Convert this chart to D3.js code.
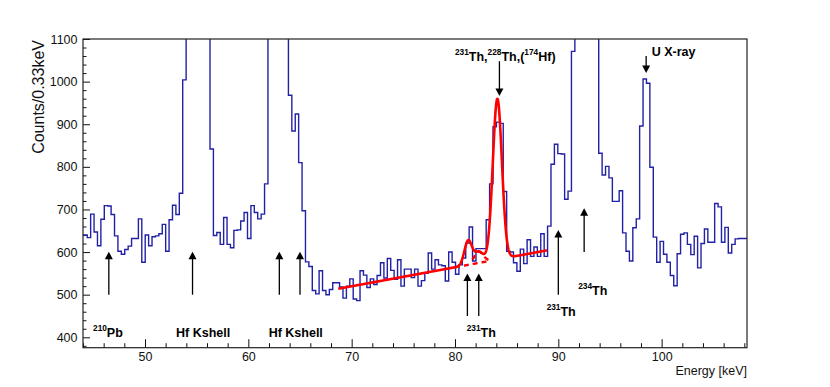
<!DOCTYPE html>
<html>
<head>
<meta charset="utf-8">
<script src="https://cdn.jsdelivr.net/npm/d3@7"></script>
<style>
body { margin: 0; background: #fff; }
text { font-family: "Liberation Sans", Arial, Helvetica, sans-serif; }
</style>
</head>
<body>
<svg id="chart" width="830" height="387"></svg>
<script>
// histogram: 0.33 keV bins starting at 43.75 keV
var binStart = 43.75;
var binWidth = 0.33;
var counts = [
  640,
  640, 634, 689, 647, 615, 677, 709, 708, 688, 638, 602, 595, 606, 614, 632, 632, 678, 576, 640, 615, 636, 638, 643, 665, 602, 676, 710, 688, 738,
  1004,
  1400, 2000, 2600, 2400, 1900, 1500, 1200,
  842,
  639, 646, 618, 681, 618, 610, 651, 652, 673, 693, 632, 709, 693, 678, 689,
  760,
  1300, 1900, 2300, 2100, 1600, 1200,
  968, 884, 924, 810,
  697, 577, 566, 510, 502, 556, 510, 500, 512, 528, 528, 518, 492,
  520, 537, 490, 486, 556, 546, 517, 537, 524, 545, 575, 539, 585, 557, 536, 582, 520, 560,
  560, 540, 560, 520, 533, 550, 598, 560, 582, 570, 568, 532, 600, 576, 548, 570, 586, 621, 659, 579, 608, 608, 608, 676, 760,
  894, 905, 902, 742, 602,
  600, 575, 555, 607, 573, 629, 590, 612, 590, 643, 590, 661,
  806, 853, 831, 830, 724, 743, 1071,
  1300, 1700, 2000, 1900, 1600, 1300, 1150,
  832, 781, 801, 774, 719, 719, 744, 645, 602, 579, 657, 678, 896, 1006, 996, 799,
  635, 576, 625, 595, 576, 545, 521, 596, 642, 645, 618, 594, 637, 563, 620, 654, 623, 623, 714, 706, 623, 658, 598, 618, 631, 632, 632, 632
];

var xTicks = [50, 60, 70, 80, 90, 100];
var yTicks = [400, 500, 600, 700, 800, 900, 1000, 1100];

// fit: linear background + three gaussians
var bgEnergy = [68.7, 88.9];
var bgCounts = [514, 604];
var peakEnergy = [81.27, 82.3, 84.1];
var peakHeight = [56, 26, 377];
var peakSigma = [0.36, 0.45, 0.44];

// arrows (energy, from counts, to counts)
var arrowEnergy = [46.5, 54.6, 63.0, 65.0, 81.2, 82.3, 90.0, 92.5, 84.3, 98.5];
var arrowFrom   = [500, 500, 500, 500, 450, 450, 500, 600, 1048, 1060];
var arrowTo     = [601, 601, 601, 601, 550, 550, 652, 703, 966, 1020];

var labels = [
  {e: 44.97, c: 400, parts: [["210", 1], ["Pb", 0]]},
  {e: 53.0,  c: 400, parts: [["Hf Kshell", 0]]},
  {e: 61.97, c: 400, parts: [["Hf Kshell", 0]]},
  {e: 81.13, c: 400, parts: [["231", 1], ["Th", 0]]},
  {e: 88.87, c: 450, parts: [["231", 1], ["Th", 0]]},
  {e: 91.93, c: 500, parts: [["234", 1], ["Th", 0]]},
  {e: 99.04, c: 1060, parts: [["U X-ray", 0]]},
  {e: 80.0,  c: 1049, parts: [["231", 1], ["Th,", 0], ["228", 1], ["Th,(", 0], ["174", 1], ["Hf)", 0]]}
];

var svg = d3.select("#chart"),
    margin = {left: 83, right: 83, top: 39, bottom: 39.3},
    width = 830 - margin.left - margin.right,
    height = 387 - margin.top - margin.bottom;

var x = d3.scaleLinear().domain([44.0, 108.26]).range([0, width]);
var y = d3.scaleLinear().domain([375.6, 1100]).range([height, 0]);

var g = svg.append("g").attr("transform", "translate(" + margin.left + "," + margin.top + ")");

svg.append("defs").append("clipPath").attr("id", "plotclip")
  .append("rect").attr("width", width).attr("height", height);

// axes, ticks inside the frame
var xMinor = d3.range(44, 109, 2).filter(function(d) { return d % 10 != 0; });
var yMinor = d3.range(380, 1100, 20).filter(function(d) { return d % 100 != 0; });

g.append("g").attr("transform", "translate(0," + height + ")")
  .call(d3.axisBottom(x).tickValues(xMinor).tickSize(-4.5).tickFormat(""))
  .call(function(a) { a.select(".domain").remove(); });
var xAx = g.append("g").attr("transform", "translate(0," + height + ")")
  .call(d3.axisBottom(x).tickValues(xTicks).tickSize(-8.5).tickPadding(4.5).tickFormat(d3.format("d")));
xAx.select(".domain").remove();
xAx.selectAll("text").attr("font-size", 12.5).attr("fill", "#111").style("font-family", null);

g.append("g")
  .call(d3.axisLeft(y).tickValues(yMinor).tickSize(-3.5).tickFormat(""))
  .call(function(a) { a.select(".domain").remove(); });
var yAx = g.append("g")
  .call(d3.axisLeft(y).tickValues(yTicks).tickSize(-7).tickPadding(5.5).tickFormat(d3.format("d")));
yAx.select(".domain").remove();
yAx.selectAll("text").attr("font-size", 12.5).attr("fill", "#111").style("font-family", null);
g.selectAll(".tick line").attr("stroke", "#111");

// histogram
var steps = counts.map(function(c, i) { return [binStart + i * binWidth, c]; });
steps.push([binStart + counts.length * binWidth, counts[counts.length - 1]]);

var plot = g.append("g").attr("clip-path", "url(#plotclip)");

plot.append("path")
  .datum(steps)
  .attr("fill", "none")
  .attr("stroke", "#2121a6")
  .attr("stroke-width", 1.4)
  .attr("d", d3.line().curve(d3.curveStepAfter)
    .x(function(d) { return x(d[0]); })
    .y(function(d) { return y(d[1]); }));

// fit curves
function bg(e) {
  return bgCounts[0] + (bgCounts[1] - bgCounts[0]) * (e - bgEnergy[0]) / (bgEnergy[1] - bgEnergy[0]);
}
function gaus(k, e) {
  var t = (e - peakEnergy[k]) / peakSigma[k];
  return peakHeight[k] * Math.exp(-0.5 * t * t);
}
function total(e) { return bg(e) + gaus(0, e) + gaus(1, e) + gaus(2, e); }

var fitLine = d3.line()
  .x(function(d) { return x(d); })
  .curve(d3.curveLinear);

plot.append("path")
  .datum(d3.range(80.0, 83.35, 0.05))
  .attr("fill", "none").attr("stroke", "#ff0000").attr("stroke-width", 2.4)
  .attr("stroke-dasharray", "5,4")
  .attr("d", fitLine.y(function(d) { return y(bg(d)); }));

plot.append("path")
  .datum(d3.range(81.7, 83.35, 0.05))
  .attr("fill", "none").attr("stroke", "#ff0000").attr("stroke-width", 2.4)
  .attr("stroke-dasharray", "5,4")
  .attr("d", fitLine.y(function(d) { return y(bg(d) + gaus(1, d)); }));

plot.append("path")
  .datum(d3.range(bgEnergy[0], bgEnergy[1] + 0.001, 0.02))
  .attr("fill", "none").attr("stroke", "#ff0000").attr("stroke-width", 2.6)
  .attr("stroke-linejoin", "round")
  .attr("d", fitLine.y(function(d) { return y(total(d)); }));

// frame
g.append("rect").attr("width", width).attr("height", height)
  .attr("fill", "none").attr("stroke", "#222").attr("stroke-width", 1.2);

// arrows
var arrows = g.append("g");
arrowEnergy.forEach(function(e, i) {
  var x0 = x(e), y0 = y(arrowFrom[i]), y1 = y(arrowTo[i]);
  var dir = y1 < y0 ? 1 : -1;
  arrows.append("line")
    .attr("x1", x0).attr("x2", x0)
    .attr("y1", y0).attr("y2", y1 + dir * 6)
    .attr("stroke", "#000").attr("stroke-width", 1.3);
  arrows.append("path")
    .attr("d", "M" + x0 + "," + y1 + "L" + (x0 - 4) + "," + (y1 + dir * 7.5) + "L" + (x0 + 4) + "," + (y1 + dir * 7.5) + "Z")
    .attr("fill", "#000");
});

// labels
labels.forEach(function(l) {
  var t = g.append("text")
    .attr("x", x(l.e)).attr("y", y(l.c))
    .attr("font-weight", "bold").attr("font-size", 12.5).attr("fill", "#000");
  var raised = false;
  l.parts.forEach(function(p) {
    var s = t.append("tspan").text(p[0]);
    if (p[1] && !raised) { s.attr("dy", -6).attr("font-size", 8.3); raised = true; }
    else if (p[1]) { s.attr("font-size", 8.3); }
    else if (raised) { s.attr("dy", 6); raised = false; }
  });
});

// axis titles
svg.append("text")
  .attr("transform", "translate(43.5,40) rotate(-90)")
  .attr("text-anchor", "end")
  .attr("font-size", 16).attr("fill", "#111")
  .text("Counts/0.33keV");

svg.append("text")
  .attr("x", 747).attr("y", 374.5)
  .attr("text-anchor", "end")
  .attr("font-size", 12.5).attr("fill", "#111")
  .text("Energy [keV]");
</script>
</body>
</html>
